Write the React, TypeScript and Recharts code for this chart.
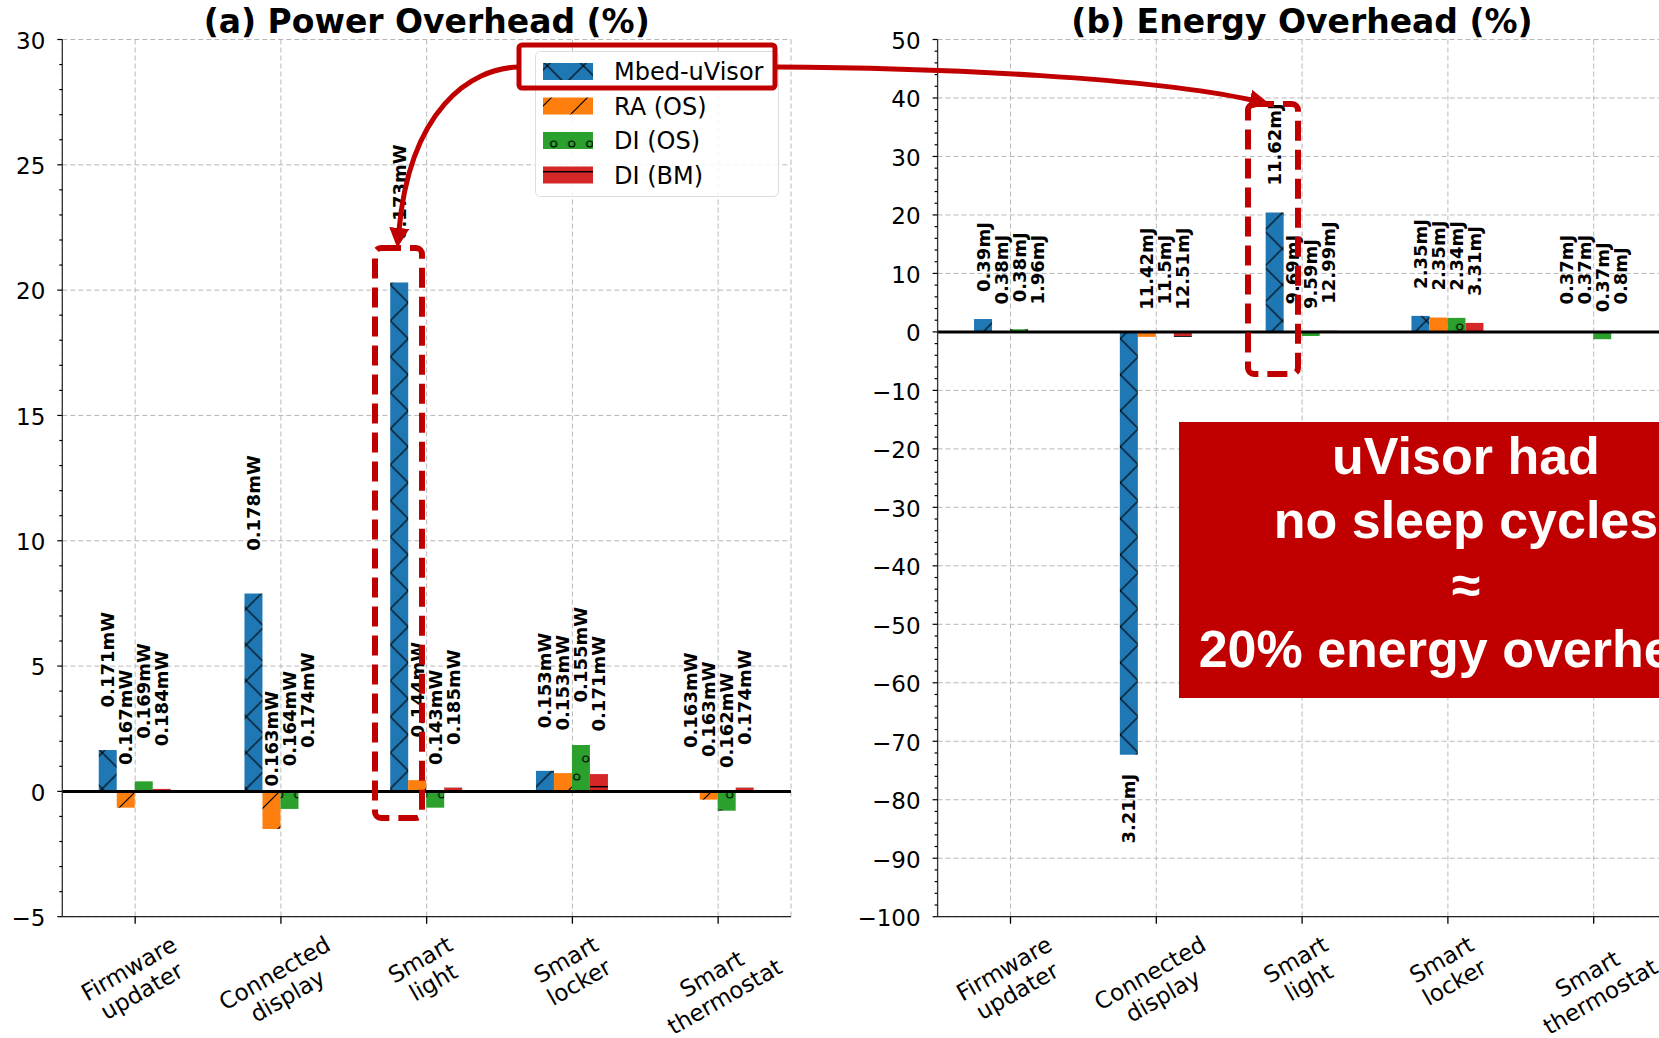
import React from 'react';
import {
  BarChart, Bar, XAxis, YAxis, CartesianGrid, ReferenceLine, LabelList, Legend,
} from 'recharts';

// ---- data ----
const categories = ['Firmware\nupdater', 'Connected\ndisplay', 'Smart\nlight', 'Smart\nlocker', 'Smart\nthermostat'];

const seriesNames = ['Mbed-uVisor', 'RA (OS)', 'DI (OS)', 'DI (BM)'];
const seriesKeys = ['mbed', 'raOs', 'diOs', 'diBm'];
const seriesColors = ['#1f77b4', '#ff7f0e', '#2ca02c', '#d62728'];
const seriesHatches = ['hatchX', 'hatchSlash', 'hatchCircle', 'hatchDash'];

// (a) power overhead in %
const powerMbed = [1.65, 7.9, 20.3, 0.82, 0.03];
const powerRaOs = [-0.65, -1.5, 0.45, 0.73, -0.33];
const powerDiOs = [0.4, -0.7, -0.65, 1.85, -0.77];
const powerDiBm = [0.1, 0.03, 0.15, 0.69, 0.15];

const powerMbedLabels = ['0.171mW', '0.178mW', '0.173mW', '0.153mW', '0.163mW'];
const powerRaOsLabels = ['0.167mW', '0.163mW', '0.144mW', '0.153mW', '0.163mW'];
const powerDiOsLabels = ['0.169mW', '0.164mW', '0.143mW', '0.155mW', '0.162mW'];
const powerDiBmLabels = ['0.184mW', '0.174mW', '0.185mW', '0.171mW', '0.174mW'];

// (b) energy overhead in %
const energyMbed = [2.2, -72.3, 20.4, 2.74, 0.05];
const energyRaOs = [0.05, -0.85, 0.05, 2.46, 0.05];
const energyDiOs = [0.45, 0.05, -0.7, 2.4, -1.25];
const energyDiBm = [0.05, -0.85, 0.2, 1.54, 0.05];

const energyMbedLabels = ['0.39mJ', '3.21mJ', '11.62mJ', '2.35mJ', '0.37mJ'];
const energyRaOsLabels = ['0.38mJ', '11.42mJ', '9.69mJ', '2.35mJ', '0.37mJ'];
const energyDiOsLabels = ['0.38mJ', '11.5mJ', '9.59mJ', '2.34mJ', '0.37mJ'];
const energyDiBmLabels = ['1.96mJ', '12.51mJ', '12.99mJ', '3.31mJ', '0.8mJ'];

const powerMajorTicks = [-5, 0, 5, 10, 15, 20, 25, 30];
const energyMajorTicks = [-100, -90, -80, -70, -60, -50, -40, -30, -20, -10, 0, 10, 20, 30, 40, 50];

// ---- layout ----
const FONT = '"DejaVu Sans", sans-serif';
const RED = '#c00000';
const PLOT_TOP = 39.5;
const PLOT_BOTTOM = 916.7;
const X_TICK_LEN = 7;

function stepTicks(major: number[], step: number): number[] {
  const lo = major[0];
  const hi = major[major.length - 1];
  const out: number[] = [];
  for (let v = lo; v <= hi + 1e-9; v += step) out.push(Math.round(v * 100) / 100);
  return out;
}

function buildRows(values: number[][], labels: string[][]) {
  return categories.map((name, i) => {
    const row: Record<string, string | number> = { name };
    seriesKeys.forEach((k, s) => {
      row[k] = values[s][i];
      row[k + 'Label'] = labels[s][i];
    });
    return row;
  });
}

const powerRows = buildRows(
  [powerMbed, powerRaOs, powerDiOs, powerDiBm],
  [powerMbedLabels, powerRaOsLabels, powerDiOsLabels, powerDiBmLabels],
);
const energyRows = buildRows(
  [energyMbed, energyRaOs, energyDiOs, energyDiBm],
  [energyMbedLabels, energyRaOsLabels, energyDiOsLabels, energyDiBmLabels],
);

const measureCtx = typeof document !== 'undefined' ? document.createElement('canvas').getContext('2d') : null;
function textWidth(s: string, font: string): number {
  if (!measureCtx) return s.length * 13;
  measureCtx.font = font;
  return measureCtx.measureText(s).width;
}

const minus = (v: number) => String(v).replace('-', '\u2212');

function CategoryTick(props: any) {
  const { x, y, payload } = props;
  const lines = String(payload.value).split('\n');
  const size = 23;
  const lh = 26;
  const w = Math.max(...lines.map(l => textWidth(l, `${size}px "DejaVu Sans"`)));
  const a = Math.PI / 6;
  const boxH = w * Math.sin(a) + lines.length * lh * Math.cos(a);
  const cy = y - X_TICK_LEN + 14 + boxH / 2;
  return (
    <text transform={`translate(${x},${cy}) rotate(-30)`} textAnchor="middle"
      fontFamily={FONT} fontSize={size} fill="#000">
      {lines.map((l, i) => (
        <tspan key={i} x={0} y={(i - (lines.length - 1) / 2) * lh + size * 0.36}>{l}</tspan>
      ))}
    </text>
  );
}

function makeYTick(majorStep: number) {
  return function YTick(props: any) {
    const { x, y, payload } = props;
    const v = Number(payload.value);
    const major = Math.abs(v % majorStep) < 1e-6;
    return (
      <g>
        <line x1={x - (major ? 5 : 3)} x2={x} y1={y} y2={y} stroke="#000" strokeWidth={1.2} />
        {major && (
          <text x={x - 17} y={y + 1} dy="0.36em" textAnchor="end" fontFamily={FONT} fontSize={23} fill="#000">
            {minus(v)}
          </text>
        )}
      </g>
    );
  };
}

function makeBarLabel(values: number[], abovePx: number, belowPx: number) {
  return function BarLabel(props: any) {
    const vb = props.viewBox ?? props;
    const x = Number(vb.x ?? props.x);
    const y = Number(vb.y ?? props.y);
    const w = Number(vb.width ?? props.width);
    const h = Number(vb.height ?? props.height);
    const v = values[props.index] ?? 0;
    const cx = x + w / 2;
    const end = v >= 0 ? Math.min(y, y + h) : Math.max(y, y + h);
    const deep = v < -10;
    const ty = deep ? end + belowPx : end - abovePx;
    return (
      <text transform={`translate(${cx},${ty}) rotate(-90)`} textAnchor={deep ? 'end' : 'start'}
        dy="0.36em" fontFamily={FONT} fontWeight="bold" fontSize={18} fill="#000">
        {props.value}
      </text>
    );
  };
}

function HatchDefs() {
  return (
    <svg width={0} height={0} style={{ position: 'absolute' }}>
      <defs>
        <pattern id="hatchX" patternUnits="userSpaceOnUse" width={36} height={36}
          patternTransform="translate(12.3,14.7)">
          <rect width={36} height={36} fill={seriesColors[0]} />
          <path d="M-2,-2 L38,38 M-2,38 L38,-2" stroke="#000" strokeWidth={1.2} />
        </pattern>
        <pattern id="hatchSlash" patternUnits="userSpaceOnUse" width={36} height={36}
          patternTransform="translate(0,27)">
          <rect width={36} height={36} fill={seriesColors[1]} />
          <path d="M-2,38 L38,-2" stroke="#000" strokeWidth={1.2} />
        </pattern>
        <pattern id="hatchCircle" patternUnits="userSpaceOnUse" width={18} height={36}
          patternTransform="translate(0.7,-6)">
          <rect width={18} height={36} fill={seriesColors[2]} />
          <circle cx={9} cy={9} r={3} fill="none" stroke="#000" strokeWidth={1.2} />
          <circle cx={0} cy={27} r={3} fill="none" stroke="#000" strokeWidth={1.2} />
          <circle cx={18} cy={27} r={3} fill="none" stroke="#000" strokeWidth={1.2} />
        </pattern>
        <pattern id="hatchDash" patternUnits="userSpaceOnUse" width={18} height={18}>
          <rect width={18} height={18} fill={seriesColors[3]} />
          <path d="M-1,12.7 L19,12.7" stroke="#000" strokeWidth={1.5} />
        </pattern>
      </defs>
    </svg>
  );
}

function LegendBox() {
  const rows = [20.5, 55, 89.5, 124];
  return (
    <svg width={244} height={146}>
      <rect x={0.5} y={0.5} width={243} height={145} rx={5} fill="rgba(255,255,255,0.85)" stroke="#dddddd" />
      {seriesNames.map((name, i) => (
        <g key={name}>
          <rect x={8} y={rows[i] - 8.5} width={50} height={17} fill={`url(#${seriesHatches[i]})`} />
          <text x={79} y={rows[i]} dy="0.36em" fontFamily={FONT} fontSize={24} fill="#000">{name}</text>
        </g>
      ))}
    </svg>
  );
}

interface PanelProps {
  rows: Record<string, string | number>[];
  values: number[][];
  majorTicks: number[];
  minorStep: number;
  majorStep: number;
  width: number;
  yWidth: number;
  rightMargin: number;
  labelAbove: number;
  showLegend?: boolean;
}

function Panel({ rows, values, majorTicks, minorStep, majorStep, width, yWidth, rightMargin, labelAbove, showLegend }: PanelProps) {
  const domain: [number, number] = [majorTicks[0], majorTicks[majorTicks.length - 1]];
  return (
    <BarChart width={width} height={1038} data={rows} barCategoryGap="25%" barGap={0}
      margin={{ top: PLOT_TOP, right: rightMargin, bottom: 0, left: 0 }}>
      <CartesianGrid xAxisId="x" yAxisId="y" stroke="#b8b8b8" strokeDasharray="5 3"
        horizontalValues={majorTicks} />
      <XAxis xAxisId="x" dataKey="name" height={1038 - PLOT_BOTTOM} interval={0}
        tickSize={X_TICK_LEN} tickMargin={0} tick={<CategoryTick />}
        tickLine={{ stroke: '#000', strokeWidth: 1.3 }} axisLine={{ stroke: '#222', strokeWidth: 1.3 }} />
      <XAxis xAxisId="top" dataKey="name" orientation="top" height={0} tick={false} tickLine={false}
        axisLine={{ stroke: '#333', strokeWidth: 1.3 }} />
      <YAxis yAxisId="y" type="number" domain={domain} ticks={stepTicks(majorTicks, minorStep)}
        interval={0} width={yWidth} tickSize={0} tickMargin={0} tickLine={false}
        tick={makeYTick(majorStep)} axisLine={{ stroke: '#333', strokeWidth: 1.3 }} />
      <YAxis yAxisId="right" orientation="right" type="number" domain={domain} width={0}
        tick={false} tickLine={false} axisLine={{ stroke: '#333', strokeWidth: 1.3 }} />
      {seriesKeys.map((k, s) => (
        <Bar key={k} xAxisId="x" yAxisId="y" dataKey={k} name={seriesNames[s]}
          fill={`url(#${seriesHatches[s]})`} isAnimationActive={false}>
          <LabelList dataKey={k + 'Label'} content={makeBarLabel(values[s], labelAbove, 19)} />
        </Bar>
      ))}
      <ReferenceLine xAxisId="x" yAxisId="y" y={0} stroke="#000" strokeWidth={3} />
      {showLegend && (
        <Legend layout="vertical" align="center" verticalAlign="middle" width={244} height={146}
          wrapperStyle={{ left: 535, top: 51, width: 244, height: 146 }}
          content={() => <LegendBox />} />
      )}
    </BarChart>
  );
}

function Annotations() {
  return (
    <svg width={1659} height={1038} style={{ position: 'absolute', left: 0, top: 0, pointerEvents: 'none' }}>
      <defs>
        <marker id="arrowHead" markerUnits="userSpaceOnUse" markerWidth={20} markerHeight={20}
          refX={2} refY={10} orient="auto">
          <path d="M0,0 L20,10 L0,20 z" fill={RED} />
        </marker>
      </defs>
      <text x={426.7} y={33} textAnchor="middle" fontFamily={FONT} fontWeight="bold" fontSize={33} fill="#000">
        (a) Power Overhead (%)
      </text>
      <text x={1302} y={33} textAnchor="middle" fontFamily={FONT} fontWeight="bold" fontSize={33} fill="#000">
        (b) Energy Overhead (%)
      </text>

      <rect x={519} y={45} width={256} height={43} rx={3} fill="none" stroke={RED} strokeWidth={5} />
      <path d="M519,67 C470,68 410,110 399,230" fill="none" stroke={RED} strokeWidth={5} markerEnd="url(#arrowHead)" />
      <path d="M775,67 C950,68 1150,78 1252,100" fill="none" stroke={RED} strokeWidth={5} markerEnd="url(#arrowHead)" />

      <rect x={375} y={248} width={47} height={570} rx={6} fill="none" stroke={RED} strokeWidth={6} strokeDasharray="20 9" />
      <rect x={1248} y={104} width={50} height={270} rx={6} fill="none" stroke={RED} strokeWidth={6} strokeDasharray="20 9" />

      <rect x={1179} y={422} width={520} height={276} fill={RED} />
      <g fontFamily='"Liberation Sans", Arial, sans-serif' fontWeight="bold" fontSize={52} fill="#fff" textAnchor="middle">
        <text x={1466} y={474}>uVisor had</text>
        <text x={1466} y={538}>no sleep cycles</text>
        <text x={1466} y={603}>≈</text>
        <text x={1466} y={667}>20% energy overhead</text>
      </g>
    </svg>
  );
}

export default function App() {
  return (
    <div style={{ position: 'absolute', left: 0, top: 0, width: 1659, height: 1038, overflow: 'hidden', background: '#fff' }}>
      <HatchDefs />
      <div style={{ position: 'absolute', left: 0, top: 0 }}>
        <Panel rows={powerRows} values={[powerMbed, powerRaOs, powerDiOs, powerDiBm]}
          majorTicks={powerMajorTicks} majorStep={5} minorStep={1} width={800} yWidth={62.3} rightMargin={9}
          labelAbove={42.6} showLegend />
      </div>
      <div style={{ position: 'absolute', left: 820, top: 0 }}>
        <Panel rows={energyRows} values={[energyMbed, energyRaOs, energyDiOs, energyDiBm]}
          majorTicks={energyMajorTicks} majorStep={10} minorStep={2} width={855} yWidth={117.6} rightMargin={8.4}
          labelAbove={27} />
      </div>
      <Annotations />
    </div>
  );
}
